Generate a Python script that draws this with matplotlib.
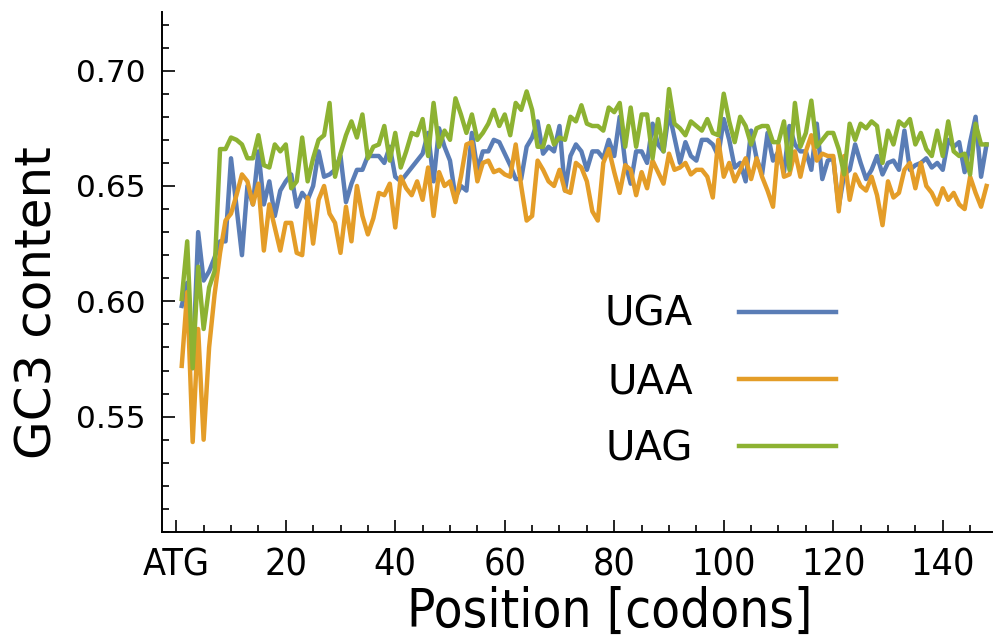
import numpy as np
import matplotlib
matplotlib.use("Agg")
import matplotlib.pyplot as plt
from matplotlib.ticker import MultipleLocator

# GC3 content per codon position after the start codon
uga = [0.598, 0.608, 0.571, 0.630, 0.609, 0.613, 0.619, 0.626, 0.626, 0.662,
       0.641, 0.620, 0.650, 0.642, 0.665, 0.642, 0.652, 0.637, 0.648, 0.652,
       0.655, 0.641, 0.647, 0.644, 0.650, 0.665, 0.654, 0.655, 0.657, 0.663,
       0.643, 0.651, 0.657, 0.657, 0.663, 0.663, 0.663, 0.660, 0.667, 0.654,
       0.652, 0.655, 0.658, 0.661, 0.664, 0.673, 0.652, 0.675, 0.667, 0.661,
       0.645, 0.650, 0.648, 0.673, 0.657, 0.665, 0.665, 0.670, 0.669, 0.664,
       0.659, 0.653, 0.653, 0.667, 0.671, 0.678, 0.664, 0.667, 0.665, 0.676,
       0.648, 0.663, 0.668, 0.665, 0.657, 0.665, 0.665, 0.662, 0.670, 0.663,
       0.680, 0.660, 0.651, 0.665, 0.665, 0.660, 0.677, 0.668, 0.665, 0.682,
       0.671, 0.660, 0.669, 0.663, 0.661, 0.670, 0.670, 0.668, 0.663, 0.679,
       0.670, 0.658, 0.660, 0.652, 0.674, 0.662, 0.655, 0.673, 0.661, 0.665,
       0.656, 0.676, 0.668, 0.665, 0.665, 0.657, 0.677, 0.653, 0.661, 0.662,
       0.641, 0.655, 0.657, 0.668, 0.660, 0.653, 0.657, 0.663, 0.655, 0.660,
       0.661, 0.657, 0.674, 0.657, 0.659, 0.660, 0.662, 0.658, 0.660, 0.657,
       0.670, 0.667, 0.669, 0.656, 0.669, 0.680, 0.654, 0.668]

uaa = [0.572, 0.604, 0.539, 0.588, 0.540, 0.580, 0.603, 0.621, 0.635, 0.638,
       0.646, 0.655, 0.652, 0.642, 0.651, 0.622, 0.642, 0.632, 0.622, 0.634,
       0.634, 0.621, 0.620, 0.645, 0.625, 0.644, 0.650, 0.638, 0.634, 0.621,
       0.641, 0.626, 0.650, 0.637, 0.629, 0.636, 0.647, 0.646, 0.651, 0.632,
       0.654, 0.649, 0.646, 0.652, 0.644, 0.658, 0.637, 0.656, 0.650, 0.652,
       0.643, 0.654, 0.668, 0.669, 0.652, 0.660, 0.661, 0.656, 0.657, 0.655,
       0.654, 0.668, 0.650, 0.635, 0.637, 0.661, 0.657, 0.652, 0.650, 0.657,
       0.648, 0.647, 0.660, 0.658, 0.652, 0.639, 0.635, 0.660, 0.666, 0.656,
       0.647, 0.659, 0.657, 0.646, 0.656, 0.649, 0.661, 0.656, 0.651, 0.664,
       0.657, 0.658, 0.660, 0.655, 0.657, 0.657, 0.654, 0.645, 0.670, 0.654,
       0.660, 0.652, 0.657, 0.662, 0.653, 0.662, 0.654, 0.648, 0.641, 0.668,
       0.654, 0.655, 0.665, 0.654, 0.665, 0.672, 0.661, 0.664, 0.663, 0.663,
       0.639, 0.663, 0.644, 0.655, 0.650, 0.648, 0.654, 0.646, 0.633, 0.652,
       0.645, 0.647, 0.657, 0.660, 0.649, 0.660, 0.650, 0.647, 0.642, 0.649,
       0.644, 0.647, 0.642, 0.640, 0.654, 0.647, 0.641, 0.650]

uag = [0.601, 0.626, 0.571, 0.615, 0.588, 0.606, 0.613, 0.666, 0.666, 0.671,
       0.670, 0.668, 0.662, 0.662, 0.672, 0.659, 0.658, 0.668, 0.665, 0.668,
       0.649, 0.652, 0.671, 0.652, 0.662, 0.670, 0.672, 0.686, 0.654, 0.664,
       0.672, 0.678, 0.671, 0.681, 0.662, 0.667, 0.668, 0.676, 0.661, 0.673,
       0.658, 0.665, 0.673, 0.672, 0.679, 0.663, 0.686, 0.667, 0.674, 0.670,
       0.688, 0.681, 0.673, 0.681, 0.670, 0.673, 0.677, 0.683, 0.676, 0.681,
       0.672, 0.686, 0.683, 0.691, 0.683, 0.667, 0.667, 0.676, 0.668, 0.671,
       0.670, 0.680, 0.678, 0.685, 0.677, 0.676, 0.676, 0.674, 0.684, 0.682,
       0.686, 0.667, 0.684, 0.667, 0.681, 0.681, 0.662, 0.679, 0.665, 0.692,
       0.677, 0.675, 0.672, 0.678, 0.676, 0.674, 0.679, 0.673, 0.672, 0.690,
       0.678, 0.669, 0.680, 0.676, 0.668, 0.675, 0.676, 0.676, 0.669, 0.669,
       0.678, 0.657, 0.686, 0.667, 0.673, 0.687, 0.667, 0.670, 0.673, 0.673,
       0.666, 0.655, 0.677, 0.670, 0.677, 0.675, 0.678, 0.676, 0.660, 0.674,
       0.668, 0.678, 0.676, 0.679, 0.668, 0.673, 0.666, 0.663, 0.674, 0.663,
       0.678, 0.665, 0.663, 0.664, 0.655, 0.677, 0.668, 0.668]

labels = ["UGA", "UAA", "UAG"]
colors = ["#5a7db6", "#e49d28", "#8db232"]
xticks = [0, 20, 40, 60, 80, 100, 120, 140]
xticklabels = ["ATG", "20", "40", "60", "80", "100", "120", "140"]
yticks = [0.55, 0.60, 0.65, 0.70]
yticklabels = ["0.55", "0.60", "0.65", "0.70"]

narrow = dict(family="DejaVu Sans", stretch="condensed")

fig = plt.figure(figsize=(9.94, 6.39), dpi=100)
ax = fig.add_axes([0.163, 0.1675, 0.835, 0.814])

for vals, lab, col in zip([uga, uaa, uag], labels, colors):
    x = np.arange(1, len(vals) + 1)
    ax.plot(x, vals, color=col, lw=3.2, label=lab)

ax.set_xlim(-2.6, 149)
ax.set_ylim(0.50, 0.7255)
ax.set_xticks(xticks)
ax.set_xticklabels(xticklabels, fontsize=27, **narrow)
ax.xaxis.set_minor_locator(MultipleLocator(5))
ax.set_yticks(yticks)
ax.set_yticklabels(yticklabels, fontsize=22.5)
ax.yaxis.set_minor_locator(MultipleLocator(0.01))

ax.tick_params(which="both", direction="in", width=1.2)
ax.tick_params(which="major", length=9)
ax.tick_params(which="minor", length=5)
ax.tick_params(axis="x", pad=11)
ax.tick_params(axis="y", pad=12)

for s in ["top", "right"]:
    ax.spines[s].set_visible(False)
for s in ["left", "bottom"]:
    ax.spines[s].set_linewidth(1.4)

ax.set_xlabel("Position [codons]", fontsize=38, **narrow)
ax.set_ylabel("GC3 content", fontsize=36)
ax.xaxis.set_label_coords(0.539, -0.103)
ax.yaxis.set_label_coords(-0.121, 0.442)

ax.legend(loc="center right", bbox_to_anchor=(0.831, 0.288), frameon=False,
          markerfirst=False, fontsize=29, handlelength=2.4, handletextpad=1.15,
          labelspacing=0.68, borderaxespad=0)

fig.savefig("out.png", dpi=100)
